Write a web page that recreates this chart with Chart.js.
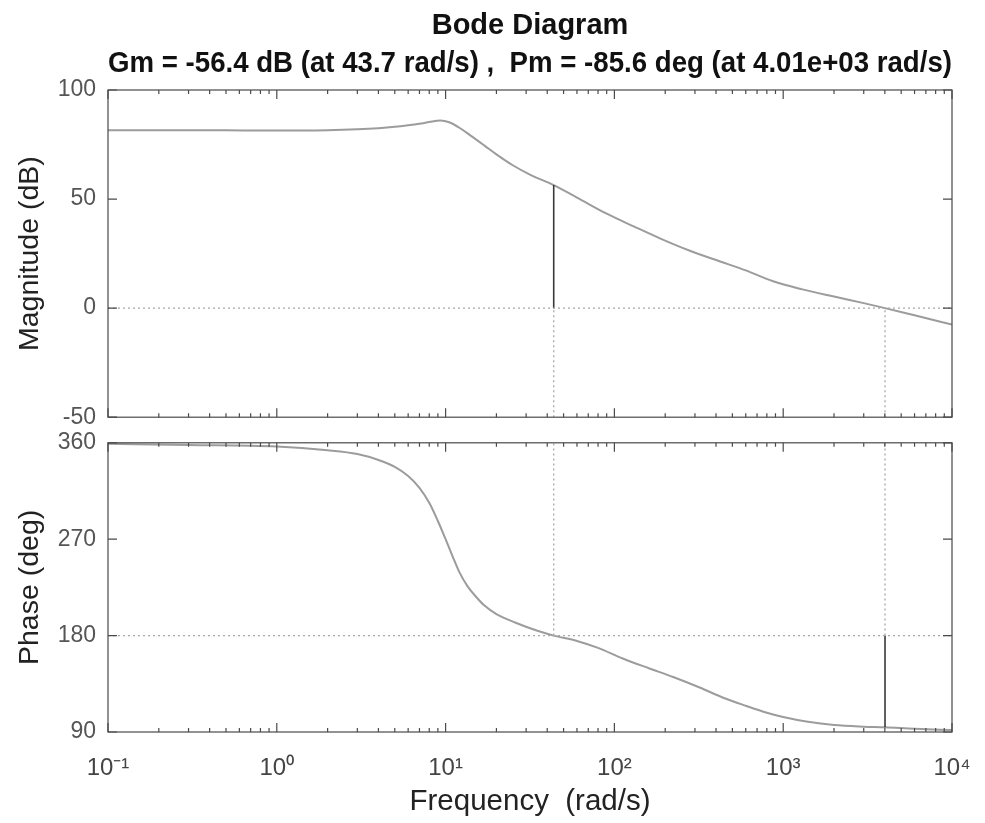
<!DOCTYPE html>
<html>
<head>
<meta charset="utf-8">
<script src="https://cdn.jsdelivr.net/npm/chart.js@4.4.1/dist/chart.umd.min.js"></script>
<style>
  body { margin: 0; background: #fff; }
  #wrap { position: relative; width: 985px; height: 823px; }
  canvas { position: absolute; left: 0; }
</style>
</head>
<body>
<div id="wrap">
  <canvas id="magChart" width="985" height="435" style="top:0"></canvas>
  <canvas id="phaseChart" width="985" height="398" style="top:425px"></canvas>
</div>
<script>
// magnitude curve
const magFreq = [0.1, 0.2, 0.5, 1, 2, 3, 4, 5, 6, 7, 8, 9.3, 10.5, 12, 14, 17, 20, 25, 32, 43.7, 60, 90, 130, 186, 280, 423, 600, 871, 1300, 2000, 3000, 4010, 6000, 10000];
const magDb = [81.6, 81.6, 81.5, 81.4, 81.6, 82, 82.5, 83.1, 83.8, 84.5, 85.3, 86, 85.2, 82.8, 79.2, 74.5, 70.5, 65.5, 61, 56.4, 50.7, 43.3, 37.5, 32, 26.3, 21.4, 17.3, 12.3, 8.6, 5.3, 2.3, 0, -3.3, -7.5];

// phase curve
const phaseFreq = [0.1, 0.3, 1, 2, 3, 4, 5, 6, 7, 8, 9, 10, 11, 12, 13.5, 15, 17, 20, 26, 35, 43.7, 60, 80, 112, 160, 223, 320, 450, 600, 800, 1000, 1400, 2000, 3000, 4010, 6000, 10000];
const phaseDeg = [359, 358, 356.5, 353, 349.5, 344, 337.5, 329, 318, 304, 287, 270, 254, 240, 226, 217, 208, 200, 192, 184.5, 180, 175, 168.5, 158.6, 149.5, 141.3, 131.5, 121.5, 114.5, 108, 104, 99.5, 96.5, 95, 94.4, 93, 91.8];

// margins
const gmFreq = 43.7, gmMag = 56.4;
const pmFreq = 4010, pmPhase = 94.4;

// axes
const freqMin = 0.1, freqMax = 10000;
const freqTicks = [0.1, 1, 10, 100, 1000, 10000];
const freqLabels = ['10\u207B\u00B9', '10\u2070', '10\u00B9', '10\u00B2', '10\u00B3', '10\u2074'];
const magMin = -50, magMax = 100, magStep = 50;
const phaseMin = 90, phaseMax = 360, phaseStep = 90;

const titleLines = ['Bode Diagram', 'Gm = -56.4 dB (at 43.7 rad/s) ,  Pm = -85.6 deg (at 4.01e+03 rad/s)'];

const FONT = "'Liberation Sans', Arial, Helvetica, sans-serif";
const curveColor = '#9c9c9c';
const dotColor = '#a8a8a8';

function toPts(xs, ys) {
  return xs.map((x, i) => ({ x: x, y: ys[i] }));
}

function dotted(pts) {
  return { data: pts, borderColor: dotColor, borderWidth: 1.3, borderDash: [2, 3], pointRadius: 0, fill: false };
}

function solid(pts) {
  return { data: pts, borderColor: '#3a3a3a', borderWidth: 1.6, pointRadius: 0, fill: false };
}

// box round the plot area, with inward ticks like the original
const framePlugin = {
  id: 'frame',
  afterDatasetsDraw(chart) {
    const { ctx, chartArea: a, scales } = chart;
    ctx.save();
    ctx.strokeStyle = '#4a4a4a';
    ctx.lineWidth = 1.2;
    ctx.strokeRect(a.left, a.top, a.right - a.left, a.bottom - a.top);
    ctx.beginPath();
    for (let d = -1; d <= 4; d++) {
      for (let m = 1; m < 10; m++) {
        if (d === 4 && m > 1) break;
        const px = scales.x.getPixelForValue(m * Math.pow(10, d));
        const len = m === 1 ? 9 : 4;
        ctx.moveTo(px, a.top); ctx.lineTo(px, a.top + len);
        ctx.moveTo(px, a.bottom); ctx.lineTo(px, a.bottom - len);
      }
    }
    scales.y.ticks.forEach(t => {
      const py = scales.y.getPixelForValue(t.value);
      ctx.moveTo(a.left, py); ctx.lineTo(a.left + 9, py);
      ctx.moveTo(a.right, py); ctx.lineTo(a.right - 9, py);
    });
    ctx.stroke();
    ctx.restore();
  }
};

function xScale(showLabels) {
  return {
    type: 'logarithmic',
    min: freqMin,
    max: freqMax,
    display: showLabels,
    grid: { display: false },
    border: { display: false },
    afterBuildTicks: s => { s.ticks = freqTicks.map(v => ({ value: v })); },
    afterFit: s => { if (showLabels) s.height = 91; },
    ticks: {
      autoSkip: false,
      maxRotation: 0,
      padding: 14,
      color: '#444',
      font: { family: FONT, size: 24 },
      callback: v => freqLabels[freqTicks.indexOf(v)]
    },
    title: {
      display: true,
      text: 'Frequency  (rad/s)',
      color: '#222',
      font: { family: FONT, size: 29.5 },
      padding: { top: 0, bottom: 3 }
    }
  };
}

function yScale(min, max, step, label) {
  return {
    min: min,
    max: max,
    grid: { display: false },
    border: { display: false },
    afterFit: s => { s.width = 108; },
    ticks: {
      stepSize: step,
      padding: 4,
      color: '#555',
      font: { family: FONT, size: 23 }
    },
    title: {
      display: true,
      text: label,
      color: '#222',
      font: { family: FONT, size: 28.5 },
      padding: { top: 13, bottom: 0 }
    }
  };
}

const magChart = new Chart(document.getElementById('magChart'), {
  type: 'line',
  data: {
    datasets: [
      dotted([{ x: freqMin, y: 0 }, { x: freqMax, y: 0 }]),
      dotted([{ x: gmFreq, y: magMin }, { x: gmFreq, y: 0 }]),
      dotted([{ x: pmFreq, y: magMin }, { x: pmFreq, y: 0 }]),
      solid([{ x: gmFreq, y: 0 }, { x: gmFreq, y: gmMag }]),
      {
        data: toPts(magFreq, magDb),
        borderColor: curveColor,
        borderWidth: 2,
        pointRadius: 0,
        cubicInterpolationMode: 'monotone',
        fill: false
      }
    ]
  },
  options: {
    responsive: false,
    animation: false,
    layout: { padding: { top: 0, right: 33, bottom: 16, left: 0 } },
    plugins: {
      legend: { display: false },
      tooltip: { enabled: false },
      title: {
        display: true,
        fullSize: false,
        text: titleLines,
        color: '#111',
        font: { family: FONT, size: 29, weight: 'bold', lineHeight: 1.3 },
        padding: { top: 7, bottom: 7.6 }
      }
    },
    scales: {
      x: xScale(false),
      y: yScale(magMin, magMax, magStep, 'Magnitude (dB)')
    }
  },
  plugins: [framePlugin]
});

const phaseChart = new Chart(document.getElementById('phaseChart'), {
  type: 'line',
  data: {
    datasets: [
      dotted([{ x: freqMin, y: 180 }, { x: freqMax, y: 180 }]),
      dotted([{ x: gmFreq, y: 180 }, { x: gmFreq, y: phaseMax }]),
      dotted([{ x: pmFreq, y: 180 }, { x: pmFreq, y: phaseMax }]),
      solid([{ x: pmFreq, y: pmPhase }, { x: pmFreq, y: 180 }]),
      {
        data: toPts(phaseFreq, phaseDeg),
        borderColor: curveColor,
        borderWidth: 2,
        pointRadius: 0,
        cubicInterpolationMode: 'monotone',
        fill: false
      }
    ]
  },
  options: {
    responsive: false,
    animation: false,
    layout: { padding: { top: 12, right: 33, bottom: 0, left: 0 } },
    plugins: {
      legend: { display: false },
      tooltip: { enabled: false }
    },
    scales: {
      x: xScale(true),
      y: yScale(phaseMin, phaseMax, phaseStep, 'Phase (deg)')
    }
  },
  plugins: [framePlugin]
});
</script>
</body>
</html>
